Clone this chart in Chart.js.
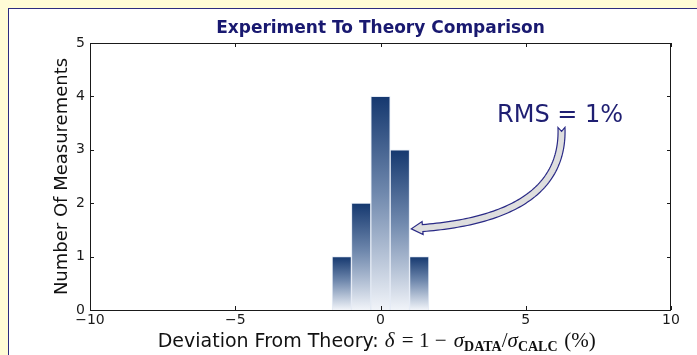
<!DOCTYPE html>
<html>
<head>
<meta charset="utf-8">
<script src="https://cdn.jsdelivr.net/npm/chart.js@4/dist/chart.umd.min.js"></script>
<style>
    html, body { margin: 0; padding: 0; }
    body { width: 697px; height: 355px; background: #fffcd6; position: relative; overflow: hidden; }
    #panel {
        position: absolute; left: 8px; top: 8px; width: 720px; height: 400px;
        background: #ffffff; border-left: 1px solid #2c2c80; border-top: 1px solid #2c2c80;
    }
    #wrap { position: absolute; left: 0; top: 0; width: 697px; height: 355px; }
</style>
</head>
<body>
<div id="panel"></div>
<div id="wrap"><canvas id="hist"></canvas></div>
<script>
// histogram bins (bin centres, width 2/3 %) and counts per bin
const binCenters = [-4 / 3, -2 / 3, 0, 2 / 3, 4 / 3];
const counts = [1, 2, 4, 3, 1];
const xTicks = [-10, -5, 0, 5, 10];
const yTicks = [0, 1, 2, 3, 4, 5];

const titleText = 'Experiment To Theory Comparison';
const yLabel = 'Number Of Measurements';
const rmsLabel = 'RMS = 1%';

// annotation placement in data units
const rmsPos = { x: 6.18, y: 3.52 };
const arrowTail = { x: 6.23, y: 3.42 };
const arrowBend = { x: 6.35, y: 1.68 };
const arrowTip = { x: 1.06, y: 1.52 };

const navy = '#1f1f72';
const axisColor = '#1a1a1a';

const points = binCenters.map((x, i) => ({ x: x, y: counts[i] }));

function barFill(c) {
    const chart = c.chart;
    if (!chart.chartArea) return '#17396f';
    const ys = chart.scales.y;
    const top = ys.getPixelForValue(c.raw.y);
    const bottom = ys.getPixelForValue(0);
    const g = chart.ctx.createLinearGradient(0, top, 0, bottom);
    g.addColorStop(0, '#15386f');
    g.addColorStop(0.45, '#6f88ad');
    g.addColorStop(1, '#f1f4f9');
    return g;
}

function quad(p0, p1, p2, t) {
    const u = 1 - t;
    return {
        x: u * u * p0.x + 2 * u * t * p1.x + t * t * p2.x,
        y: u * u * p0.y + 2 * u * t * p1.y + t * t * p2.y
    };
}

function drawArrow(ctx, p0, p1, p2) {
    const n = 80;
    const pts = [];
    for (let i = 0; i <= n; i++) pts.push(quad(p0, p1, p2, i / n));
    // distance left to the tip for each sample
    const rem = new Array(n + 1).fill(0);
    for (let i = n - 1; i >= 0; i--) {
        rem[i] = rem[i + 1] + Math.hypot(pts[i + 1].x - pts[i].x, pts[i + 1].y - pts[i].y);
    }
    const headLen = 13, half = 3.5, headHalf = 6.5, notch = 4;
    let k = 0;
    while (k < n && rem[k] > headLen) k++;
    const left = [], right = [];
    for (let i = 0; i <= k; i++) {
        const a = pts[Math.max(i - 1, 0)], b = pts[Math.min(i + 1, n)];
        const dx = b.x - a.x, dy = b.y - a.y, l = Math.hypot(dx, dy);
        const nx = -dy / l, ny = dx / l;
        left.push({ x: pts[i].x + nx * half, y: pts[i].y + ny * half, nx: nx, ny: ny });
        right.push({ x: pts[i].x - nx * half, y: pts[i].y - ny * half });
    }
    const t0x = pts[1].x - pts[0].x, t0y = pts[1].y - pts[0].y, t0 = Math.hypot(t0x, t0y);
    const base = pts[k], bn = left[k];
    ctx.save();
    ctx.beginPath();
    ctx.moveTo(p0.x + t0x / t0 * notch, p0.y + t0y / t0 * notch);
    left.forEach(p => ctx.lineTo(p.x, p.y));
    ctx.lineTo(base.x + bn.nx * headHalf, base.y + bn.ny * headHalf);
    ctx.lineTo(p2.x, p2.y);
    ctx.lineTo(base.x - bn.nx * headHalf, base.y - bn.ny * headHalf);
    for (let i = right.length - 1; i >= 0; i--) ctx.lineTo(right[i].x, right[i].y);
    ctx.closePath();
    ctx.fillStyle = '#dedede';
    ctx.fill();
    ctx.lineWidth = 1.2;
    ctx.strokeStyle = '#2a2a86';
    ctx.lineJoin = 'miter';
    ctx.stroke();
    ctx.restore();
}

// x axis label with the mathtext part drawn in a serif face
function drawXLabel(ctx, cx, baseline) {
    const sans = '19px "DejaVu Sans"';
    const it = 'italic 21px "Liberation Serif"';
    const rm = '21px "Liberation Serif"';
    const sub = 'bold 14px "Liberation Serif"';
    const parts = [
        { t: 'Deviation From Theory: ', f: sans, dy: 0 },
        { t: '\u03b4', f: it, dy: 0 },
        { t: ' = 1 \u2212 ', f: rm, dy: 0, gap: 4 },
        { t: '\u03c3', f: it, dy: 0 },
        { t: 'DATA', f: sub, dy: 4 },
        { t: '/', f: rm, dy: 0 },
        { t: '\u03c3', f: it, dy: 0 },
        { t: 'CALC', f: sub, dy: 4 },
        { t: ' (%)', f: rm, dy: 0, gap: 3 }
    ];
    let total = 0;
    parts.forEach(p => {
        ctx.font = p.f;
        p.w = ctx.measureText(p.t).width + (p.gap || 0);
        total += p.w;
    });
    let x = cx - total / 2;
    ctx.save();
    ctx.fillStyle = '#111111';
    ctx.textBaseline = 'alphabetic';
    ctx.textAlign = 'left';
    parts.forEach(p => {
        ctx.font = p.f;
        ctx.fillText(p.t, x + (p.gap || 0) / 2, baseline + p.dy);
        x += p.w;
    });
    ctx.restore();
}

const decor = {
    id: 'decor',
    afterDatasetsDraw(chart) {
        const { ctx, chartArea: a, scales: { x, y } } = chart;
        ctx.save();
        // frame with inward ticks on all four sides
        ctx.strokeStyle = axisColor;
        ctx.lineWidth = 1;
        ctx.strokeRect(Math.round(a.left) + 0.5, Math.round(a.top) + 0.5,
            Math.round(a.right - a.left) - 1, Math.round(a.bottom - a.top));
        ctx.beginPath();
        xTicks.forEach(v => {
            const px = Math.round(x.getPixelForValue(v)) + 0.5;
            ctx.moveTo(px, a.bottom); ctx.lineTo(px, a.bottom - 4);
            ctx.moveTo(px, a.top); ctx.lineTo(px, a.top + 4);
        });
        yTicks.forEach(v => {
            const py = Math.round(y.getPixelForValue(v)) + 0.5;
            ctx.moveTo(a.left, py); ctx.lineTo(a.left + 4, py);
            ctx.moveTo(a.right, py); ctx.lineTo(a.right - 4, py);
        });
        ctx.stroke();

        // title centred over the plot area
        ctx.fillStyle = '#191970';
        ctx.font = 'bold 17px "DejaVu Sans"';
        ctx.textAlign = 'center';
        ctx.textBaseline = 'alphabetic';
        ctx.fillText(titleText, (a.left + a.right) / 2, 33);

        // RMS note and its curved arrow
        ctx.fillStyle = navy;
        ctx.font = '24px "DejaVu Sans"';
        ctx.fillText(rmsLabel, x.getPixelForValue(rmsPos.x), y.getPixelForValue(rmsPos.y));
        const px = p => ({ x: x.getPixelForValue(p.x), y: y.getPixelForValue(p.y) });
        drawArrow(ctx, px(arrowTail), px(arrowBend), px(arrowTip));

        drawXLabel(ctx, (a.left + a.right) / 2 - 3, 347);
        ctx.restore();
    }
};

const tickFont = { family: 'DejaVu Sans', size: 14 };

new Chart(document.getElementById('hist'), {
    type: 'bar',
    data: {
        datasets: [{
            data: points,
            backgroundColor: barFill,
            borderColor: 'rgba(225, 232, 243, 0.85)',
            borderWidth: 1,
            borderSkipped: 'bottom',
            barPercentage: 1,
            categoryPercentage: 1
        }]
    },
    options: {
        responsive: true,
        maintainAspectRatio: false,
        animation: false,
        layout: { padding: { left: 0, right: 26, top: 43, bottom: 0 } },
        plugins: {
            legend: { display: false },
            tooltip: { enabled: false },
            title: { display: false }
        },
        scales: {
            x: {
                type: 'linear',
                offset: false,
                min: xTicks[0],
                max: xTicks[xTicks.length - 1],
                grid: { display: false, drawTicks: false },
                border: { display: false },
                ticks: {
                    stepSize: 5,
                    padding: 2,
                    maxRotation: 0,
                    color: '#1a1a1a',
                    font: tickFont,
                    callback: v => (v < 0 ? '\u2212' + Math.abs(v) : String(v))
                },
                afterFit: s => { s.height = 45; }
            },
            y: {
                min: yTicks[0],
                max: yTicks[yTicks.length - 1],
                grid: { display: false, drawTicks: false },
                border: { display: false },
                ticks: { stepSize: 1, padding: 5, color: '#1a1a1a', font: tickFont },
                title: {
                    display: true,
                    text: yLabel,
                    color: '#111111',
                    font: { family: 'DejaVu Sans', size: 18 },
                    padding: { top: 52, bottom: 0 }
                },
                afterFit: s => { s.width = 90; }
            }
        }
    },
    plugins: [decor]
});
</script>
</body>
</html>
